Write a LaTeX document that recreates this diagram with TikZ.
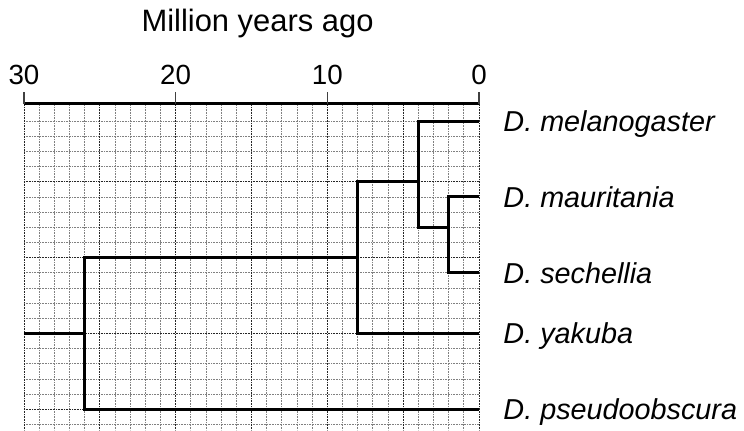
\documentclass[tikz,border=0pt]{standalone}
\usepackage{fontspec}
\setmainfont{Liberation Sans}
\usetikzlibrary{positioning}

\begin{document}
\begin{tikzpicture}[x=0.5cm, y=0.5cm,
				branch/.style={line width=2.8pt, line join=miter},
				axisline/.style={line width=2.6pt},
				tickmark/.style={line width=1.2pt, black!75},
				minorgrid/.style={line width=0.7pt, black!50, dash pattern=on 0.6pt off 0.9pt},
				majorgrid/.style={line width=0.8pt, black!85, dash pattern=on 0.6pt off 0.9pt},
				species/.style={anchor=west, inner sep=0pt, text height=19.3pt, text depth=0pt, font=\fontsize{27}{32}\selectfont\itshape},
				ticklabel/.style={inner sep=0pt, text height=18.6pt, text depth=0pt, font=\fontsize{26}{31}\selectfont},
				heading/.style={inner sep=0pt, text height=20.8pt, text depth=0pt, font=\fontsize{29}{35}\selectfont}
			]
			\useasboundingbox (-31.58,-20.37) rectangle (17.47,7.98);
			% grid
			\foreach \x in {-30,-29,...,0} \draw[minorgrid] (\x,1.14) -- (\x,-20.37);
			\foreach \y in {0,-1,...,-20} \draw[minorgrid] (-30,\y) -- (0,\y);
			\foreach \x in {-30,-25,...,0} \draw[majorgrid] (\x,1.14) -- (\x,-20.37);
			\foreach \y in {-4,-9,-14,-19} \draw[majorgrid] (-30,\y) -- (0,\y);
			% time axis
			\coordinate (ax30) at (-30,1.14);
			\coordinate (ax0) at (0,1.14);
			\draw[axisline] (ax30) -- (ax0);
			\foreach \t in {30,20,10,0} {
				\coordinate (tick\t) at (-\t,1.14);
				\draw[tickmark] (tick\t) -- ++(0,0.8);
				\node[ticklabel] (lab\t) at (-\t,3.03) {\t};
			}
			\node[heading] (heading) at (-14.6,6.64) {Million years ago};
			% tips
			\coordinate (mel) at (0,0);
			\coordinate (mau) at (0,-5);
			\coordinate (sec) at (0,-10);
			\coordinate (yak) at (0,-14);
			\coordinate (pse) at (0,-19);
			\node[species] (melname) [right=8mm of mel] {D. melanogaster};
			\node[species] (mauname) [right=8mm of mau] {D. mauritania};
			\node[species] (secname) [right=8mm of sec] {D. sechellia};
			\node[species] (yakname) [right=8mm of yak] {D. yakuba};
			\node[species] (psename) [right=8mm of pse] {D. pseudoobscura};
			% inner nodes
			\coordinate (mausec) at (-2,-7);
			\coordinate (melgroup) at (-4,-4);
			\coordinate (yakgroup) at (-8,-9);
			\coordinate (rootnode) at (-26,-14);
			\coordinate (stem) at (-30,-14);
			\begin{scope}[branch]
			\draw (mausec) |- (mau);
			\draw (mausec) |- (sec);
			\draw (melgroup) |- (mel);
			\draw (melgroup) |- (mausec);
			\draw (yakgroup) |- (melgroup);
			\draw (yakgroup) |- (yak);
			\draw (rootnode) |- (yakgroup);
			\draw (rootnode) |- (pse);
			\draw (stem) -- (rootnode);
			\end{scope}
\end{tikzpicture}
\end{document}
